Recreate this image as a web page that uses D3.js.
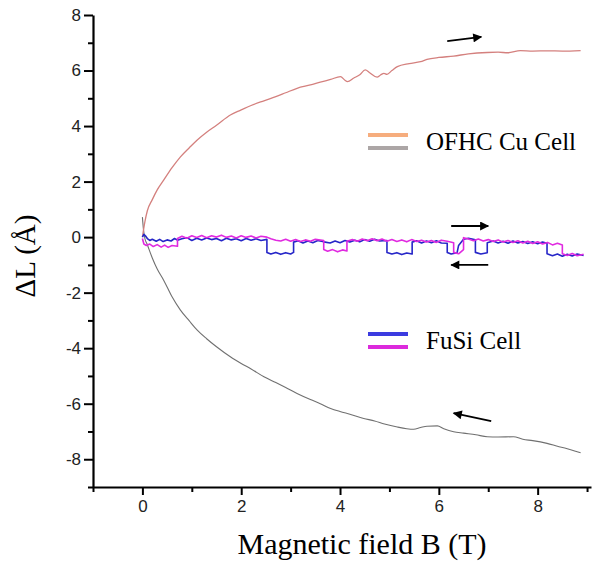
<!DOCTYPE html>
<html>
<head>
<meta charset="utf-8">
<script src="https://cdn.jsdelivr.net/npm/d3@7"></script>
<style>
  body { margin: 0; background: #fff; }
  svg { display: block; }
</style>
</head>
<body>
<div id="chart"></div>
<script>
// data: [B (T), dL (A)]
const cuUp = [
  [0, 0], [0.05, 0.55], [0.1, 0.95], [0.2, 1.35], [0.3, 1.7], [0.43, 2.05], [0.6, 2.5],
  [0.77, 2.89], [0.95, 3.22], [1.11, 3.5], [1.3, 3.78], [1.5, 4.03], [1.78, 4.4],
  [2.0, 4.58], [2.2, 4.74], [2.46, 4.91], [2.7, 5.06], [2.9, 5.2], [3.13, 5.36],
  [3.4, 5.48], [3.6, 5.58], [3.81, 5.68], [4.01, 5.78], [4.1, 5.65], [4.15, 5.6],
  [4.28, 5.73], [4.4, 5.85], [4.51, 6.02], [4.6, 5.92], [4.75, 5.76], [4.82, 5.84],
  [4.89, 5.9], [4.95, 5.86], [5.05, 6.0], [5.16, 6.14], [5.4, 6.25], [5.63, 6.32],
  [5.76, 6.4], [6.0, 6.47], [6.3, 6.52], [6.6, 6.6], [6.98, 6.65], [7.2, 6.66],
  [7.4, 6.64], [7.65, 6.72], [7.9, 6.7], [8.2, 6.71], [8.5, 6.7], [8.87, 6.72]
]

const cuDown = [
  [0, 0.72], [0.02, 0.3], [0.05, -0.05], [0.09, -0.23], [0.2, -0.75], [0.3, -1.15],
  [0.43, -1.55], [0.6, -2.15], [0.77, -2.63], [0.95, -3.02], [1.11, -3.35], [1.3, -3.66],
  [1.5, -3.95], [1.78, -4.31], [2.0, -4.55], [2.2, -4.75], [2.46, -5.03], [2.7, -5.24],
  [2.9, -5.42], [3.13, -5.63], [3.4, -5.85], [3.6, -6.0], [3.81, -6.17], [4.0, -6.28],
  [4.2, -6.38], [4.48, -6.53], [4.7, -6.62], [4.9, -6.73], [5.16, -6.84], [5.35, -6.9],
  [5.49, -6.92], [5.63, -6.86], [5.76, -6.81], [5.97, -6.8], [6.1, -6.9], [6.3, -7.01],
  [6.5, -7.06], [6.75, -7.12], [6.98, -7.19], [7.2, -7.2], [7.51, -7.19], [7.7, -7.28],
  [7.9, -7.33], [8.19, -7.43], [8.4, -7.53], [8.6, -7.62], [8.8, -7.73], [8.87, -7.77]
]

const fusiBlue = [
  [0, 0], [0.03, 0.1], [0.06, 0.05], [0.1, -0.05], [0.15, -0.12], [0.2, -0.08],
  [0.28, -0.15], [0.35, -0.08], [0.42, -0.16], [0.5, -0.1], [0.58, -0.14], [0.65, -0.05],
  [0.71, -0.11], [0.8, -0.06], [0.9, -0.02], [1.0, -0.12], [1.1, -0.04], [1.2, -0.1],
  [1.3, -0.03], [1.4, -0.09], [1.5, -0.05], [1.6, -0.13], [1.7, -0.04], [1.8, -0.1],
  [1.9, -0.06], [2.0, -0.13], [2.1, -0.05], [2.2, -0.11], [2.3, -0.06], [2.4, -0.12],
  [2.52, -0.08], [2.52, -0.55], [2.6, -0.61], [2.7, -0.55], [2.8, -0.62], [2.9, -0.56],
  [3.0, -0.61], [3.06, -0.55], [3.06, -0.18], [3.15, -0.13], [3.25, -0.21], [3.35, -0.14],
  [3.45, -0.2], [3.55, -0.12], [3.67, -0.17], [3.8, -0.21], [3.9, -0.14], [4.0, -0.2],
  [4.1, -0.12], [4.2, -0.18], [4.3, -0.11], [4.4, -0.17], [4.5, -0.09], [4.6, -0.15],
  [4.7, -0.08], [4.8, -0.14], [4.95, -0.12], [4.95, -0.55], [5.05, -0.61], [5.15, -0.56],
  [5.25, -0.63], [5.35, -0.57], [5.46, -0.61], [5.46, -0.18], [5.55, -0.13], [5.65, -0.21],
  [5.75, -0.14], [5.85, -0.2], [5.95, -0.13], [6.05, -0.21], [6.17, -0.22], [6.17, -0.55],
  [6.25, -0.61], [6.37, -0.56], [6.4, -0.3], [6.5, -0.08], [6.6, -0.04], [6.74, -0.1],
  [6.74, -0.55], [6.85, -0.61], [6.98, -0.56], [6.98, -0.2], [7.1, -0.14], [7.2, -0.21],
  [7.3, -0.15], [7.4, -0.22], [7.5, -0.14], [7.6, -0.21], [7.7, -0.16], [7.8, -0.23],
  [7.9, -0.17], [8.0, -0.24], [8.1, -0.18], [8.19, -0.22], [8.19, -0.6], [8.3, -0.67],
  [8.4, -0.61], [8.5, -0.69], [8.6, -0.62], [8.7, -0.68], [8.8, -0.61], [8.93, -0.66]
]

const fusiMagenta = [
  [0, -0.05], [0.03, -0.25], [0.08, -0.3], [0.15, -0.25], [0.22, -0.34], [0.3, -0.27],
  [0.38, -0.36], [0.45, -0.29], [0.52, -0.37], [0.6, -0.3], [0.71, -0.33], [0.71, -0.05],
  [0.8, 0.03], [0.9, -0.04], [1.0, 0.05], [1.1, -0.01], [1.2, 0.06], [1.3, -0.02],
  [1.4, 0.05], [1.5, 0.0], [1.6, 0.07], [1.7, -0.01], [1.8, 0.04], [1.9, -0.03],
  [2.0, 0.05], [2.1, -0.01], [2.2, 0.04], [2.3, -0.03], [2.4, 0.03], [2.52, 0.0],
  [2.6, -0.06], [2.7, -0.11], [2.8, -0.14], [2.9, -0.08], [3.0, -0.15], [3.1, -0.09],
  [3.2, -0.16], [3.3, -0.1], [3.4, -0.15], [3.5, -0.08], [3.67, -0.12], [3.67, -0.45],
  [3.75, -0.51], [3.85, -0.45], [3.95, -0.53], [4.05, -0.46], [4.14, -0.5], [4.14, -0.15],
  [4.25, -0.09], [4.35, -0.15], [4.45, -0.07], [4.55, -0.13], [4.65, -0.06], [4.75, -0.13],
  [4.85, -0.07], [4.95, -0.15], [5.05, -0.09], [5.15, -0.16], [5.25, -0.1], [5.35, -0.17],
  [5.45, -0.09], [5.55, -0.16], [5.65, -0.11], [5.75, -0.18], [5.85, -0.12], [5.95, -0.19],
  [6.05, -0.11], [6.17, -0.15], [6.3, -0.2], [6.3, -0.55], [6.4, -0.6], [6.5, -0.45],
  [6.5, -0.02], [6.6, -0.07], [6.7, -0.13], [6.8, -0.07], [6.9, -0.14], [7.0, -0.09],
  [7.1, -0.16], [7.2, -0.1], [7.3, -0.18], [7.4, -0.12], [7.5, -0.19], [7.6, -0.13],
  [7.7, -0.21], [7.8, -0.15], [7.9, -0.23], [8.0, -0.17], [8.1, -0.25], [8.2, -0.19],
  [8.3, -0.28], [8.4, -0.22], [8.5, -0.28], [8.5, -0.6], [8.6, -0.66], [8.7, -0.59],
  [8.8, -0.67], [8.93, -0.62]
]

const xTicks = [-1, 0, 1, 2, 3, 4, 5, 6, 7, 8, 9]
const yTicks = [-9, -8, -7, -6, -5, -4, -3, -2, -1, 0, 1, 2, 3, 4, 5, 6, 7, 8]

// sweep direction arrows: [fromB, fromL, toB, toL]
const arrows = [
  [6.17, 7.06, 6.86, 7.21],
  [6.25, 0.4, 7.0, 0.4],
  [7.0, -1.0, 6.25, -1.0],
  [7.06, -6.63, 6.3, -6.34]
]

const width = 592
const height = 564

const svg = d3.select('#chart').append('svg')
  .attr('width', width)
  .attr('height', height)

const defs = svg.append('defs')
defs.append('marker')
  .attr('id', 'head')
  .attr('viewBox', '0 0 10 10')
  .attr('refX', 9)
  .attr('refY', 5)
  .attr('markerWidth', 6)
  .attr('markerHeight', 5)
  .attr('orient', 'auto')
  .attr('markerUnits', 'strokeWidth')
  .append('path')
  .attr('d', 'M0,0 L10,5 L0,10 Z')
  .attr('fill', '#000')

const x = d3.scaleLinear().domain([-1, 9.08]).range([93, 591])
const y = d3.scaleLinear().domain([-9, 8]).range([487, 15])

const labelFont = '"Liberation Sans", Arial, sans-serif'
const serif = '"Liberation Serif", "Times New Roman", serif'

// x axis
const xAxis = d3.axisBottom(x)
  .tickValues(xTicks)
  .tickSize(0)
  .tickFormat(d => d % 2 === 0 ? d : '')
const gx = svg.append('g')
  .attr('transform', `translate(0,${y(-9)})`)
  .call(xAxis)
gx.select('.domain').attr('stroke-width', 2.2)
gx.selectAll('.tick line')
  .attr('y2', d => d % 2 === 0 ? 8 : 5)
  .attr('stroke-width', 2)
gx.selectAll('.tick text')
  .attr('y', 13)
  .attr('font-family', labelFont)
  .attr('font-size', 17)
  .attr('fill', '#222')

// y axis
const yAxis = d3.axisLeft(y)
  .tickValues(yTicks)
  .tickSize(0)
  .tickFormat(d => d % 2 === 0 ? d : '')
const gy = svg.append('g')
  .attr('transform', `translate(${x(-1)},0)`)
  .call(yAxis)
gy.select('.domain').attr('stroke-width', 2.2)
gy.selectAll('.tick line')
  .attr('x2', d => d % 2 === 0 ? -9 : -5)
  .attr('stroke-width', 2)
gy.selectAll('.tick text')
  .attr('x', -12)
  .attr('font-family', labelFont)
  .attr('font-size', 17)
  .attr('fill', '#222')

// axis titles
svg.append('text')
  .attr('x', 362)
  .attr('y', 554)
  .attr('text-anchor', 'middle')
  .attr('font-family', serif)
  .attr('font-size', 30)
  .text('Magnetic field B (T)')

svg.append('text')
  .attr('transform', 'translate(35,256) rotate(-90)')
  .attr('text-anchor', 'middle')
  .attr('font-family', serif)
  .attr('font-size', 29)
  .text('ΔL (Å)')

// curves
const smooth = d3.line()
  .x(d => x(d[0]))
  .y(d => y(d[1]))
  .curve(d3.curveMonotoneX)

const steps = d3.line()
  .x(d => x(d[0]))
  .y(d => y(d[1]))

const series = [
  { data: cuDown, color: '#707070', w: 1.1, line: smooth },
  { data: cuUp, color: '#d4807e', w: 1.3, line: smooth },
  { data: fusiBlue, color: '#2626c8', w: 1.6, line: steps },
  { data: fusiMagenta, color: '#e02ae0', w: 1.6, line: steps }
]

svg.append('g')
  .selectAll('path')
  .data(series)
  .join('path')
  .attr('d', d => d.line(d.data))
  .attr('fill', 'none')
  .attr('stroke', d => d.color)
  .attr('stroke-width', d => d.w)
  .attr('stroke-linejoin', 'round')

// arrows
svg.append('g')
  .selectAll('line')
  .data(arrows)
  .join('line')
  .attr('x1', d => x(d[0]))
  .attr('y1', d => y(d[1]))
  .attr('x2', d => x(d[2]))
  .attr('y2', d => y(d[3]))
  .attr('stroke', '#000')
  .attr('stroke-width', 1.8)
  .attr('marker-end', 'url(#head)')

// legends
const legends = [
  { label: 'OFHC Cu Cell', top: 135, colors: ['#f6ad7e', '#aca6a6'] },
  { label: 'FuSi Cell', top: 334, colors: ['#3b3be0', '#dc2adc'] }
]

legends.forEach(l => {
  const g = svg.append('g')
  l.colors.forEach((c, i) => {
    g.append('line')
      .attr('x1', 368)
      .attr('x2', 408)
      .attr('y1', l.top + i * 13)
      .attr('y2', l.top + i * 13)
      .attr('stroke', c)
      .attr('stroke-width', 4)
  })
  g.append('text')
    .attr('x', 426)
    .attr('y', l.top + 15)
    .attr('font-family', serif)
    .attr('font-size', 25)
    .text(l.label)
})
</script>
</body>
</html>
